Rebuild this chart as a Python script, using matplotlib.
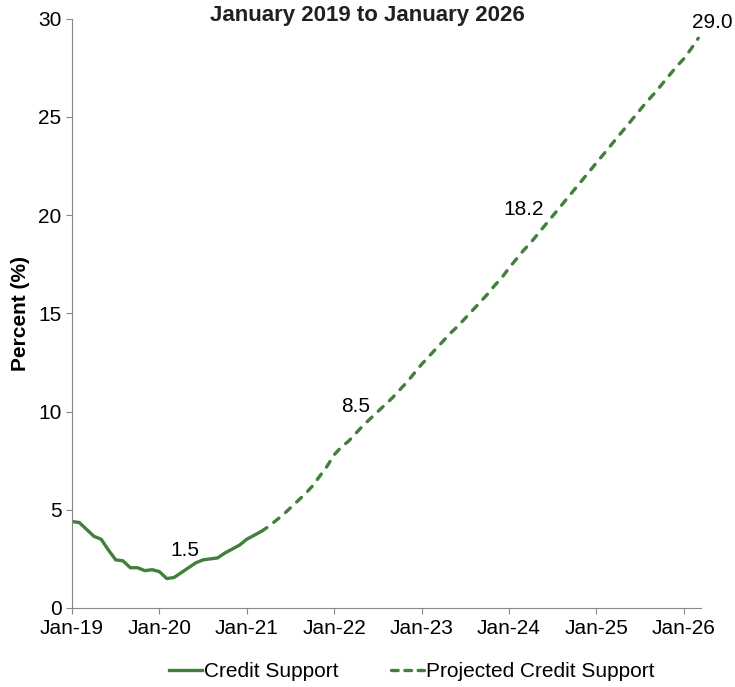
import numpy as np
import matplotlib.pyplot as plt
from matplotlib.lines import Line2D

plt.rcParams['font.family'] = ['Liberation Sans', 'DejaVu Sans']

# month index 0 = Jan-2019
credit_months = list(range(0, 27))
credit_values = [4.4, 4.35, 4.0, 3.65, 3.5, 2.95, 2.45, 2.4, 2.05, 2.05,
                 1.9, 1.95, 1.85, 1.5, 1.55, 1.8, 2.05, 2.3, 2.45, 2.5,
                 2.55, 2.8, 3.0, 3.2, 3.5, 3.7, 3.9]

proj_months = list(range(26, 87))
proj_values = [3.9, 4.15, 4.45, 4.75, 5.1, 5.45, 5.8, 6.2, 6.7, 7.2,
               7.8, 8.2, 8.5, 8.9, 9.3, 9.65, 10.0, 10.35, 10.7, 11.1,
               11.5, 11.95, 12.4, 12.8, 13.2, 13.6, 14.0, 14.35, 14.75, 15.15,
               15.55, 15.95, 16.4, 16.8, 17.3, 17.75, 18.2, 18.6, 19.05, 19.5,
               19.95, 20.4, 20.85, 21.3, 21.75, 22.2, 22.65, 23.1, 23.55, 24.0,
               24.45, 24.9, 25.35, 25.8, 26.2, 26.65, 27.1, 27.55, 27.95, 28.45,
               29.0]

tick_months = [0, 12, 24, 36, 48, 60, 72, 84]
tick_labels = ['Jan-19', 'Jan-20', 'Jan-21', 'Jan-22', 'Jan-23', 'Jan-24', 'Jan-25', 'Jan-26']

label_months = [14, 38, 62, 86]
label_values = [1.5, 8.5, 18.2, 29.0]
label_offsets = [(11, 28), (7, 34), (0, 41), (14, 16)]  # pixels

green = '#41803a'
dash = (0, (2.0, 2.6))

fig = plt.figure(figsize=(7.35, 6.87), dpi=100)
ax = fig.add_axes([0.098, 0.115, 0.856, 0.858])

ax.plot(credit_months, credit_values, color=green, lw=2.4, solid_capstyle='round')
ax.plot(proj_months, proj_values, color=green, lw=2.4, linestyle=dash,
        dash_capstyle='round')

for m, v, off in zip(label_months, label_values, label_offsets):
    ax.annotate(f'{v:.1f}', (m, v), xytext=off, textcoords='offset pixels',
                ha='center', va='center', fontsize=15)

ax.set_xlim(0, 86.4)
ax.set_ylim(0, 30)
ax.set_yticks(range(0, 31, 5))
ax.set_xticks(tick_months)
ax.set_xticklabels(tick_labels)
ax.tick_params(labelsize=15, color='#888888', length=4)
ax.tick_params(axis='x', pad=4)
for s in ['top', 'right']:
    ax.spines[s].set_visible(False)
for s in ['left', 'bottom']:
    ax.spines[s].set_color('#888888')
ax.set_ylabel('Percent (%)', fontsize=15, fontweight='bold', labelpad=6)

fig.text(0.5, 0.978, 'January 2019 to January 2026', ha='center', va='center',
         fontsize=16, fontweight='bold', color='#231f20')

handles = [Line2D([], [], color=green, lw=2.4),
           Line2D([], [], color=green, lw=2.4, linestyle=(0, (2.0, 2.0)),
                  dash_capstyle='round')]
fig.legend(handles, ['Credit Support', 'Projected Credit Support'],
           loc='center', bbox_to_anchor=(0.56, 0.022), ncol=2, frameon=False,
           fontsize=15, handlelength=1.6, handletextpad=0.1, columnspacing=2.5)

fig.savefig('out.png', dpi=100)
